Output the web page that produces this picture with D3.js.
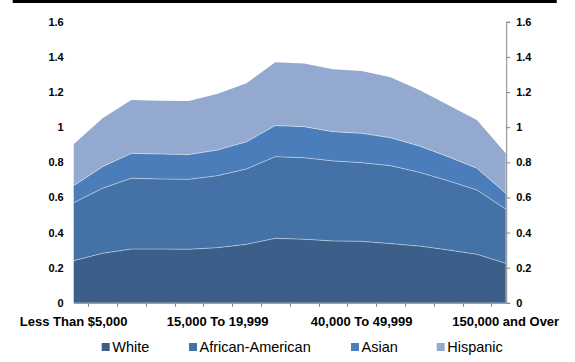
<!DOCTYPE html>
<html>
<head>
<meta charset="utf-8">
<script src="https://cdn.jsdelivr.net/npm/d3@7"></script>
<style>
  html, body { margin: 0; padding: 0; background: #fff; }
  svg { display: block; font-family: "Liberation Sans", Arial, sans-serif; }
</style>
</head>
<body>
<svg id="chart" width="575" height="362"></svg>
<script>
// Household income brackets
const categories = [
  "Less Than $5,000", "5,000 To 7,499", "7,500 To 9,999", "10,000 To 12,499",
  "12,500 To 14,999", "15,000 To 19,999", "20,000 To 24,999", "25,000 To 29,999",
  "30,000 To 34,999", "35,000 To 39,999", "40,000 To 49,999", "50,000 To 59,999",
  "60,000 To 74,999", "75,000 To 99,999", "100,000 To 149,999", "150,000 and Over"
];

// Stacked series values, bottom to top
const seriesNames = ["White", "African-American", "Asian", "Hispanic"];
const white    = [0.240, 0.282, 0.306, 0.306, 0.305, 0.314, 0.333, 0.367, 0.362, 0.352, 0.350, 0.337, 0.323, 0.301, 0.276, 0.225];
const africanAmerican = [0.330, 0.370, 0.403, 0.399, 0.398, 0.410, 0.429, 0.465, 0.464, 0.456, 0.448, 0.444, 0.420, 0.394, 0.366, 0.309];
const asian    = [0.097, 0.123, 0.142, 0.142, 0.141, 0.146, 0.155, 0.177, 0.177, 0.166, 0.167, 0.159, 0.150, 0.137, 0.124, 0.090];
const hispanic = [0.236, 0.276, 0.304, 0.304, 0.305, 0.320, 0.333, 0.361, 0.359, 0.356, 0.355, 0.344, 0.319, 0.294, 0.275, 0.227];

const yTicks = [0, 0.2, 0.4, 0.6, 0.8, 1, 1.2, 1.4, 1.6];
const shownLabels = ["Less Than $5,000", "15,000 To 19,999", "40,000 To 49,999", "150,000 and Over"];

const colors = ["#3c5f8a", "#4472a6", "#4a7dba", "#93a9d0"];

const rows = categories.map((c, i) => ({
  cat: c,
  "White": white[i],
  "African-American": africanAmerican[i],
  "Asian": asian[i],
  "Hispanic": hispanic[i]
}));

const svg = d3.select("#chart");

// Top rule
svg.append("rect").attr("x", 12.7).attr("y", 0).attr("width", 544).attr("height", 3).attr("fill", "#000");

const x = d3.scalePoint().domain(categories).range([73.7, 505.7]);
const y = d3.scaleLinear().domain([0, 1.6]).range([302.8, 21.8]);

const stack = d3.stack().keys(seriesNames);
const layers = stack(rows);

const area = d3.area()
  .x(d => x(d.data.cat))
  .y0(d => y(d[0]))
  .y1(d => y(d[1]));

const topLine = d3.line()
  .x(d => x(d.data.cat))
  .y(d => y(d[1]));

svg.append("g").selectAll("path")
  .data(layers)
  .join("path")
  .attr("d", area)
  .attr("fill", (d, i) => colors[i]);

// Light edge along the top of each layer
svg.append("g").selectAll("path")
  .data(layers.slice(0, 3))
  .join("path")
  .attr("d", topLine)
  .attr("fill", "none")
  .attr("stroke", "rgba(255,255,255,0.55)")
  .attr("stroke-width", 0.8);

const axisColor = "#868686";

// Right value axis
const rightAxis = svg.append("g").attr("transform", `translate(${x.range()[1] + 0.5},0)`)
  .call(d3.axisRight(y).tickValues(yTicks).tickSize(4).tickPadding(6).tickFormat(d3.format("")));
rightAxis.select(".domain").attr("stroke", axisColor);
rightAxis.selectAll(".tick line").attr("stroke", axisColor);
rightAxis.selectAll("text").attr("fill", "#000").attr("font-size", "11px").attr("font-weight", "bold")
  .attr("font-family", "'Liberation Sans', Arial, sans-serif");

// Left value labels (no axis line)
const leftAxis = svg.append("g").attr("transform", `translate(${x.range()[0]},0)`)
  .call(d3.axisLeft(y).tickValues(yTicks).tickSize(0).tickPadding(10).tickFormat(d3.format("")));
leftAxis.select(".domain").remove();
leftAxis.selectAll("text").attr("fill", "#000").attr("font-size", "11px").attr("font-weight", "bold")
  .attr("font-family", "'Liberation Sans', Arial, sans-serif");

// Category axis: baseline, ticks between categories, selected labels
const base = y(0);
svg.append("line")
  .attr("x1", x.range()[0]).attr("x2", x.range()[1] + 0.5)
  .attr("y1", base + 0.5).attr("y2", base + 0.5)
  .attr("stroke", axisColor).attr("stroke-width", 1);

const mids = categories.slice(0, -1).map((c, i) => (x(c) + x(categories[i + 1])) / 2);
svg.append("g").selectAll("line")
  .data(mids)
  .join("line")
  .attr("x1", d => Math.round(d) + 0.5).attr("x2", d => Math.round(d) + 0.5)
  .attr("y1", base).attr("y2", base + 4)
  .attr("stroke", axisColor);

svg.append("g").selectAll("text")
  .data(shownLabels)
  .join("text")
  .attr("x", d => x(d))
  .attr("y", 326)
  .attr("text-anchor", "middle")
  .attr("font-size", "13px")
  .attr("font-weight", "bold")
  .text(d => d);

// Legend
const legendX = [101.7, 189, 351, 436.7];
const legend = svg.append("g").selectAll("g")
  .data(seriesNames)
  .join("g")
  .attr("transform", (d, i) => `translate(${legendX[i]},0)`);
legend.append("rect")
  .attr("x", 0).attr("y", 343).attr("width", 8).attr("height", 8)
  .attr("fill", (d, i) => colors[i]);
legend.append("text")
  .attr("x", 10.5).attr("y", 352)
  .attr("font-size", "14.5px")
  .attr("fill", "#000")
  .text(d => d);
</script>
</body>
</html>
